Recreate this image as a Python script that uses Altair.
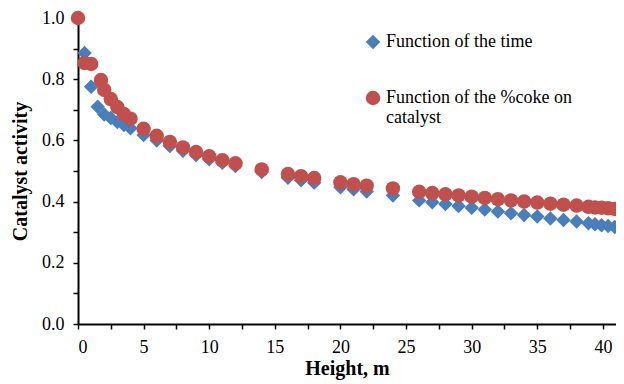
import altair as alt
import pandas as pd

time_x = [0.5, 1, 1.5, 2, 2.5, 3, 3.5, 4, 5, 6, 7, 8, 9, 10, 11, 12, 14, 16, 17, 18,
          20, 21, 22, 24, 26, 27, 28, 29, 30, 31, 32, 33, 34, 35, 36, 37, 38,
          38.9, 39.4, 39.9, 40.4, 40.9]
time_y = [0.886, 0.775, 0.71, 0.685, 0.673, 0.66, 0.65, 0.64, 0.618, 0.60, 0.582,
          0.566, 0.552, 0.538, 0.527, 0.516, 0.497, 0.478, 0.47, 0.462,
          0.447, 0.44, 0.433, 0.42, 0.404, 0.398, 0.392, 0.386, 0.38, 0.374,
          0.368, 0.362, 0.356, 0.351, 0.345, 0.34, 0.335,
          0.329, 0.326, 0.323, 0.32, 0.317]

coke_x = [0, 0.5, 1, 1.75, 2, 2.5, 3, 3.5, 4, 5, 6, 7, 8, 9, 10, 11, 12, 14, 16, 17, 18,
          20, 21, 22, 24, 26, 27, 28, 29, 30, 31, 32, 33, 34, 35, 36, 37, 38,
          38.9, 39.4, 39.9, 40.4, 40.9]
coke_y = [1.0, 0.853, 0.85, 0.797, 0.765, 0.735, 0.709, 0.686, 0.671, 0.638, 0.615,
          0.595, 0.577, 0.562, 0.548, 0.535, 0.525, 0.505, 0.49, 0.483, 0.477,
          0.463, 0.457, 0.452, 0.443, 0.432, 0.428, 0.424, 0.42, 0.416, 0.412,
          0.408, 0.404, 0.40, 0.397, 0.393, 0.39, 0.387,
          0.383, 0.381, 0.38, 0.378, 0.376]

series = ["Function of the time", "Function of the %coke on catalyst"]

x_ticks = [0, 2.5, 5, 7.5, 10, 12.5, 15, 17.5, 20, 22.5, 25, 27.5, 30, 32.5, 35, 37.5, 40]
y_ticks = [0, 0.1, 0.2, 0.3, 0.4, 0.5, 0.6, 0.7, 0.8, 0.9, 1.0]

df = pd.concat([
    pd.DataFrame({"x": time_x, "y": time_y, "s": series[0]}),
    pd.DataFrame({"x": coke_x, "y": coke_y, "s": series[1]}),
], ignore_index=True)

FONT = "'Liberation Serif', 'Times New Roman', serif"

chart = alt.Chart(df).mark_point(filled=True, opacity=1, size=210).encode(
    x=alt.X("x:Q", scale=alt.Scale(domain=[0, 41.0], nice=False, zero=True),
            axis=alt.Axis(title="Height, m", values=x_ticks,
                          labelExpr="datum.value % 5 == 0 ? format(datum.value, 'd') : ''",
                          grid=False, tickSize=5, labelPadding=9, titlePadding=2)),
    y=alt.Y("y:Q", scale=alt.Scale(domain=[0, 1.0], nice=False),
            axis=alt.Axis(title="Catalyst activity", values=y_ticks,
                          labelExpr="round(datum.value * 10) % 2 == 0 ? format(datum.value, '.1f') : ''",
                          grid=False, tickSize=5, labelPadding=9, titlePadding=11)),
    color=alt.Color("s:N", sort=series,
                    scale=alt.Scale(domain=series, range=["#4A7EBB", "#C0504D"]),
                    legend=alt.Legend(title=None, orient="none", legendX=286, legendY=15,
                                      labelExpr="datum.label == 'Function of the %coke on catalyst' ? ['Function of the %coke on', 'catalyst'] : datum.label",
                                      labelFont=FONT, labelFontSize=18, labelColor="black",
                                      rowPadding=34, labelOffset=4, labelLimit=400,
                                      symbolSize=210, symbolOpacity=1)),
    shape=alt.Shape("s:N", sort=series,
                    scale=alt.Scale(domain=series, range=["diamond", "circle"])),
    order=alt.Order("s:N", sort="descending"),
).properties(
    width=538, height=306,
    autosize=alt.AutoSizeParams(type="none"),
    padding={"left": 70, "top": 10, "right": 0, "bottom": 58},
).configure(
    font=FONT,
).configure_axis(
    domainColor="black", domainWidth=2, tickColor="black", tickWidth=1.5,
    labelFont=FONT, labelFontSize=18, labelColor="black",
    titleFont=FONT, titleFontSize=20, titleFontWeight="bold", titleColor="black",
).configure_legend(
    labelFont=FONT,
).configure_view(stroke=None)

chart.save("out.html", embed_options={"renderer": "svg", "actions": False})
